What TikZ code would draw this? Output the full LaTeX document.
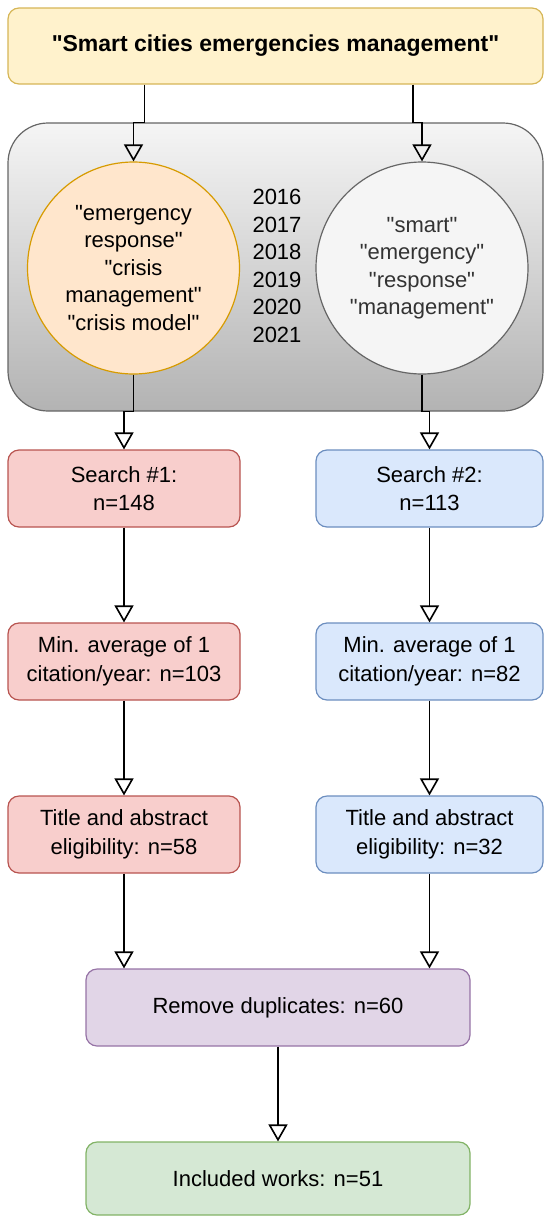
\documentclass[tikz,border=0pt]{standalone}
\usepackage{fontspec}
\setmainfont{Liberation Sans}
\newfontfamily\arial{Liberation Sans}
\usepackage{tikz}
\usetikzlibrary{arrows.meta}
\usepackage{xcolor}
\definecolor{Yf}{HTML}{fff2cc}
\definecolor{Yd}{HTML}{d6b656}
\definecolor{Of}{HTML}{ffe6cc}
\definecolor{Od}{HTML}{d79b00}
\definecolor{Gf}{HTML}{f5f5f5}
\definecolor{Gd}{HTML}{666666}
\definecolor{Gb}{HTML}{b3b3b3}
\definecolor{Gt}{HTML}{333333}
\definecolor{Rf}{HTML}{f8cecc}
\definecolor{Rd}{HTML}{b85450}
\definecolor{Bf}{HTML}{dae8fc}
\definecolor{Bd}{HTML}{6c8ebf}
\definecolor{Pf}{HTML}{e1d5e7}
\definecolor{Pd}{HTML}{9673a6}
\definecolor{Vf}{HTML}{d5e8d4}
\definecolor{Vd}{HTML}{82b366}
\tikzset{
  txt/.style={font=\arial\fontsize{22}{28.5}\selectfont, align=center},
  box/.style={txt, draw, line width=1.2pt, rounded corners=11pt, inner sep=0pt,
    minimum height=77pt},
  ring/.style={txt, draw, line width=1.2pt, circle, inner sep=0pt, minimum size=212pt,
    font=\arial\fontsize{22}{27.5}\selectfont},
  flow/.style={line width=1.6pt, -{Triangle[open, width=19pt, length=17pt]}},
}

\begin{document}
\begin{tikzpicture}[x=1pt, y=-1pt]
\useasboundingbox (0,0) rectangle (544,1216);

\def\lw{1.2pt}

% query and search terms
\node[box, fill=Yf, draw=Yd, minimum width=535pt, minimum height=76pt,
  font=\arial\fontsize{23}{28}\selectfont\bfseries] (title) at (275.5,46) {"Smart cities emergencies management"};
\node[draw=Gd, line width=\lw, rounded corners=40pt, top color=Gf, bottom color=Gb,
  minimum width=535pt, minimum height=288pt, inner sep=0pt] (cont) at (275.5,267) {};
\node[ring, fill=Of, draw=Od] (emg) at (133.5,268) {"emergency\\response"\\"crisis\\management"\\"crisis model"};
\node[ring, fill=Gf, draw=Gd, text=Gt] (kw) at (422,268) {"smart"\\"emergency"\\"response"\\"management"};
\node[txt, font=\arial\fontsize{22}{27.6}\selectfont] (years) at (277,266) {2016\\2017\\2018\\2019\\2020\\2021};

% left branch
\node[box, fill=Rf, draw=Rd, minimum width=232pt] (s1) at (124,488.5) {Search \#1:\\n=148};
\node[box, fill=Rf, draw=Rd, minimum width=232pt] (m1) at (124,661.5) {Min. average of 1\\citation/year: n=103};
\node[box, fill=Rf, draw=Rd, minimum width=232pt] (t1) at (124,834.5) {Title and abstract\\eligibility: n=58};

% right branch
\node[box, fill=Bf, draw=Bd, minimum width=227pt] (s2) at (429.5,488.5) {Search \#2:\\n=113};
\node[box, fill=Bf, draw=Bd, minimum width=227pt] (m2) at (429.5,661.5) {Min. average of 1\\citation/year: n=82};
\node[box, fill=Bf, draw=Bd, minimum width=227pt] (t2) at (429.5,834.5) {Title and abstract\\eligibility: n=32};

% merge
\node[box, fill=Pf, draw=Pd, minimum width=384pt] (rd) at (278,1007.5) {Remove duplicates: n=60};
\node[box, fill=Vf, draw=Vd, minimum width=384pt, minimum height=73pt] (inc) at (278,1178.5) {Included works: n=51};

\draw[flow] ([xshift=11pt]title.south -| emg.north) |- (cont.north -| emg.north) -- (emg.north);
\draw[flow] ([xshift=-9pt]title.south -| kw.north) |- (cont.north -| kw.north) -- (kw.north);
\draw[flow] (emg.south) |- (cont.south -| s1.north) -- (s1.north);
\draw[flow] (kw.south) |- (cont.south -| s2.north) -- (s2.north);
\draw[flow] (s1) -- (m1);
\draw[flow] (m1) -- (t1);
\draw[flow] (s2) -- (m2);
\draw[flow] (m2) -- (t2);
\draw[flow] (t1.south) -- (t1.south |- rd.north);
\draw[flow] (t2.south) -- (t2.south |- rd.north);
\draw[flow] (rd) -- (inc);

\end{tikzpicture}
\end{document}
